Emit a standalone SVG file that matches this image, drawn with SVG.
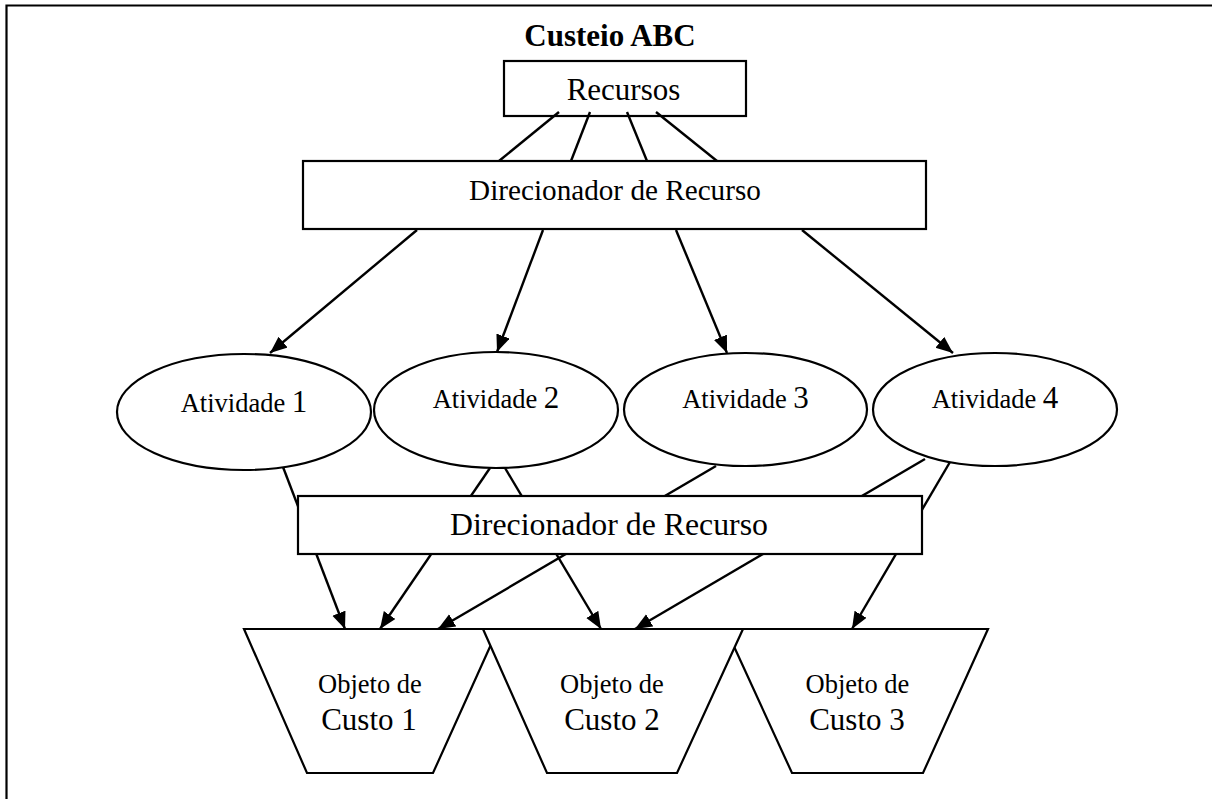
<svg xmlns="http://www.w3.org/2000/svg" width="1212" height="799" viewBox="0 0 1212 799">
<style>
.shape{fill:#fff;stroke:#000;stroke-width:2.2}
.conn{stroke:#000;stroke-width:2.4;fill:none}
.arr{marker-end:url(#ah)}
text{font-family:"Liberation Serif","Times New Roman",serif;fill:#000;text-anchor:middle}
.t31{font-size:31px}
.t26{font-size:26.5px}
</style>
<defs>
<marker id="ah" markerUnits="userSpaceOnUse" markerWidth="19" markerHeight="16" refX="17" refY="7" orient="auto">
<path d="M0,0 L17,7 L0,14 z" fill="#000"/>
</marker>
</defs>
<rect width="1212" height="799" fill="#fff"/>
<path d="M6.5,799 V5.5 H1212" fill="none" stroke="#000" stroke-width="2.2"/>
<text x="610" y="46" style="font-size:31px;font-weight:bold">Custeio ABC</text>

<g id="recursos">
<rect class="shape" x="504" y="61" width="242" height="55"/>
<text class="t31" x="623.5" y="100">Recursos</text>
</g>

<g id="connectors">
<line class="conn" x1="559" y1="112" x2="499" y2="161"/>
<line class="conn" x1="590" y1="112" x2="571" y2="161"/>
<line class="conn" x1="627" y1="112" x2="647" y2="161"/>
<line class="conn" x1="656" y1="112" x2="717" y2="161"/>
<line class="conn arr" x1="417" y1="230" x2="270" y2="353"/>
<line class="conn arr" x1="543" y1="230" x2="497" y2="352"/>
<line class="conn arr" x1="676" y1="230" x2="727" y2="353"/>
<line class="conn arr" x1="802" y1="230" x2="953" y2="353"/>
<line class="conn arr" x1="283" y1="467" x2="345" y2="629"/>
<line class="conn arr" x1="490" y1="468" x2="380" y2="629"/>
<line class="conn arr" x1="505" y1="468" x2="601" y2="629"/>
<line class="conn arr" x1="716" y1="466" x2="438" y2="629"/>
<line class="conn arr" x1="925" y1="459" x2="635" y2="629"/>
<line class="conn arr" x1="950" y1="462" x2="852" y2="629"/>
</g>

<g id="direcionador1">
<rect class="shape" x="303" y="161" width="623" height="68"/>
<text x="615" y="200" style="font-size:29.2px">Direcionador de Recurso</text>
</g>

<g id="atividade1">
<ellipse class="shape" cx="244" cy="412" rx="127" ry="58"/>
<text x="244" y="412"><tspan class="t26">Atividade </tspan><tspan class="t31">1</tspan></text>
</g>
<g id="atividade2">
<ellipse class="shape" cx="496" cy="410" rx="122" ry="58"/>
<text x="496" y="408"><tspan class="t26">Atividade </tspan><tspan class="t31">2</tspan></text>
</g>
<g id="atividade3">
<ellipse class="shape" cx="745.5" cy="409.5" rx="121.5" ry="56.5"/>
<text x="745.5" y="408"><tspan class="t26">Atividade </tspan><tspan class="t31">3</tspan></text>
</g>
<g id="atividade4">
<ellipse class="shape" cx="995" cy="409.5" rx="122" ry="56.5"/>
<text x="995" y="408"><tspan class="t26">Atividade </tspan><tspan class="t31">4</tspan></text>
</g>

<g id="direcionador2">
<rect class="shape" x="298" y="496" width="624" height="58"/>
<text x="609" y="535" style="font-size:31.8px">Direcionador de Recurso</text>
</g>

<g id="objeto1">
<polygon class="shape" points="244,629 498,629 433,773 307,773"/>
<text class="t26" x="370" y="693">Objeto de</text>
<text class="t31" x="369" y="730">Custo 1</text>
</g>
<g id="objeto3">
<polygon class="shape" points="726,629 988,629 923,773 792,773"/>
<text class="t26" x="857.5" y="693">Objeto de</text>
<text class="t31" x="857" y="730">Custo 3</text>
</g>
<g id="objeto2">
<polygon class="shape" points="483,629 743,629 677,773 547,773"/>
<text class="t26" x="612" y="693">Objeto de</text>
<text class="t31" x="612" y="730">Custo 2</text>
</g>
</svg>
